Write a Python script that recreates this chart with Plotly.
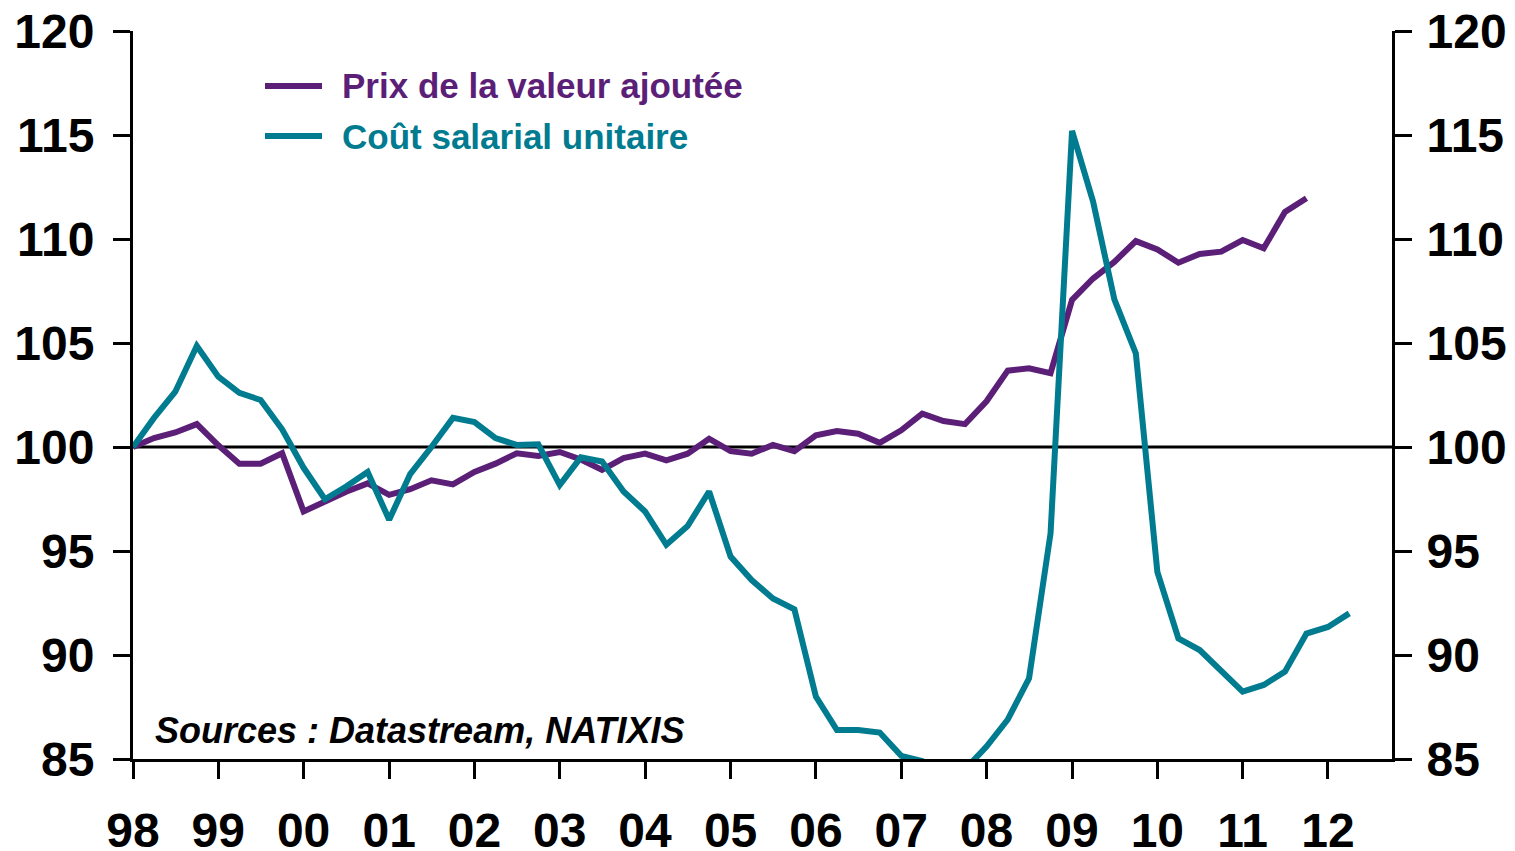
import pandas as pd
import plotly.graph_objects as go

start_quarter = "1998Q1"

prix_valeur_ajoutee = [
    100.0, 100.43, 100.7, 101.1,
    100.08, 99.2, 99.2, 99.7,
    96.9, 97.4, 97.85, 98.25,
    97.7, 97.97, 98.4, 98.2,
    98.8, 99.2, 99.7, 99.57,
    99.76, 99.4, 98.9, 99.47,
    99.68, 99.36, 99.68, 100.4,
    99.8, 99.68, 100.1, 99.8,
    100.56, 100.77, 100.64, 100.2,
    100.8, 101.6, 101.25, 101.1,
    102.2, 103.67, 103.78, 103.55,
    107.07, 108.1, 108.9, 109.9,
    109.5, 108.86, 109.28, 109.39,
    109.95, 109.55, 111.3, 111.96,
]

cout_salarial_unitaire = [
    100.0, 101.4, 102.66, 104.86,
    103.38, 102.6, 102.26, 100.85,
    99.0, 97.49, 98.1, 98.8,
    96.5, 98.7, 100.0, 101.4,
    101.2, 100.43, 100.1, 100.13,
    98.17, 99.5, 99.3, 97.86,
    96.9, 95.3, 96.2, 97.86,
    94.73, 93.6, 92.72, 92.2,
    88.0, 86.39, 86.39, 86.27,
    85.15, 84.9, 84.3, 84.5,
    85.6, 86.9, 88.88, 95.85,
    115.2, 111.8, 107.1, 104.5,
    94.0, 90.8, 90.24, 89.2,
    88.24, 88.56, 89.2, 91.03,
    91.35, 92.0,
]

series_names = ["Prix de la valeur ajoutée", "Coût salarial unitaire"]
colors = ["#5C1F78", "#007B8F"]
source_text = "Sources : Datastream, NATIXIS"

def quarters(n):
    return pd.period_range(start_quarter, periods=n, freq="Q").to_timestamp()

FONT = "Arial, Liberation Sans, sans-serif"

fig = go.Figure()
for name, vals, col in [
    (series_names[0], prix_valeur_ajoutee, colors[0]),
    (series_names[1], cout_salarial_unitaire, colors[1]),
]:
    fig.add_trace(go.Scatter(
        x=quarters(len(vals)), y=vals, mode="lines", name=name,
        showlegend=False,
        line=dict(color=col, width=6, shape="linear"),
        cliponaxis=True,
    ))

# invisible trace for right axis
fig.add_trace(go.Scatter(x=[quarters(1)[0]], y=[100], yaxis="y2", mode="lines",
                         showlegend=False, hoverinfo="skip", line=dict(width=0)))

tick_font = dict(family=FONT, size=48, color="black", weight="bold")
axis_common = dict(
    range=[85, 120], dtick=5, tick0=85,
    showgrid=False, zeroline=False, automargin=False,
    showline=True, linecolor="black", linewidth=3,
    ticks="outside", ticklen=17, tickwidth=3, tickcolor="black",
    tickfont=tick_font, ticklabeloverflow="allow",
)

W, H = 1507, 843
PLOT_W = 1259
PLOT_H = 728

fig.update_layout(
    width=W, height=H,
    paper_bgcolor="white", plot_bgcolor="white",
    margin=dict(l=125, r=123, t=23, b=92),
    xaxis=dict(
        type="date", automargin=False,
        range=["1998-01-01", "2012-10-01"],
        tick0="1998-01-01", dtick="M12", tickformat="%y",
        showgrid=False, zeroline=False,
        showline=True, linecolor="black", linewidth=3,
        ticks="outside", ticklen=17, tickwidth=3, tickcolor="black",
        tickfont=tick_font, ticklabelstandoff=10, ticklabeloverflow="allow",
    ),
    yaxis=dict(**axis_common, side="left", ticklabelstandoff=9),
    yaxis2=dict(**axis_common, side="right", overlaying="y", ticklabelstandoff=5),
    showlegend=False,
    font=dict(family=FONT, weight="bold"),
)

# reference line at 100
fig.add_hline(y=100, line=dict(color="black", width=3), layer="below")

# legend drawn as paper-positioned line + label per series
legend_rows_y = [(759 - 86) / PLOT_H, (759 - 136) / PLOT_H]
legend_line_x = [(265 - 133) / PLOT_W, (322 - 133) / PLOT_W]
legend_text_x = (340 - 133) / PLOT_W

for name, col, ly in zip(series_names, colors, legend_rows_y):
    fig.add_shape(type="line", xref="paper", yref="paper", layer="above",
                  x0=legend_line_x[0], x1=legend_line_x[1], y0=ly, y1=ly,
                  line=dict(color=col, width=6))
    fig.add_annotation(text=name, xref="paper", yref="paper",
                       x=legend_text_x, y=ly, xanchor="left", yanchor="middle",
                       showarrow=False,
                       font=dict(family=FONT, size=35, color=col, weight="bold"))

fig.add_annotation(
    text=f"<i>{source_text}</i>",
    xref="paper", yref="paper", x=20 / PLOT_W, y=29 / PLOT_H,
    xanchor="left", yanchor="middle", showarrow=False,
    font=dict(family=FONT, size=36, color="black", weight="bold"),
)

fig.write_html("out.html")
